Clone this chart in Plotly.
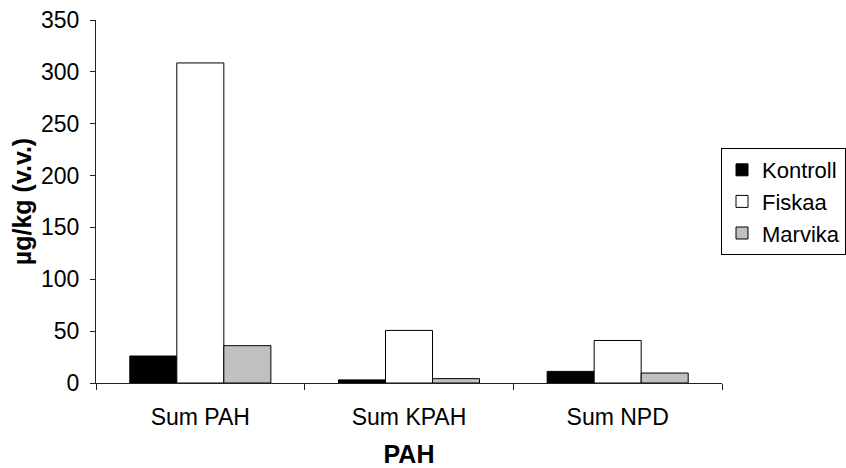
import plotly.graph_objects as go

categories = ["Sum PAH", "Sum KPAH", "Sum NPD"]
kontroll = [26, 3, 11.2]
fiskaa = [308.6, 50.7, 41]
marvika = [36, 4.2, 9.6]

fig = go.Figure()
line = dict(color="black", width=1)
fig.add_bar(name="Kontroll", x=categories, y=kontroll, marker=dict(color="black", line=line))
fig.add_bar(name="Fiskaa", x=categories, y=fiskaa, marker=dict(color="white", line=line))
fig.add_bar(name="Marvika", x=categories, y=marvika, marker=dict(color="#c0c0c0", line=line))

font = "Liberation Sans, Arial, sans-serif"
fig.update_layout(
    width=846, height=468,
    margin=dict(l=96, r=124, t=20, b=85, autoexpand=False),
    paper_bgcolor="white", plot_bgcolor="white",
    barmode="group", bargap=0.324, bargroupgap=0,
    font=dict(family=font, size=23, color="black"),
    showlegend=True,
    legend=dict(xref="container", x=1.0, y=0.5, xanchor="right", yanchor="middle",
                bordercolor="black", borderwidth=1, font=dict(size=22),
                itemwidth=30, tracegroupgap=0),
    xaxis=dict(showline=True, linecolor="#222", linewidth=1, automargin=False,
               ticks="outside", ticklen=6, tickcolor="#222",
               tickson="boundaries", range=[-0.5, 2.5], ticklabelstandoff=13,
               title=dict(text="<b>PAH</b>", font=dict(size=25), standoff=20)),
    yaxis=dict(range=[0, 350], dtick=50, showline=True, linecolor="#222", linewidth=1,
               automargin=False,
               ticks="outside", ticklen=5, tickcolor="#222", showgrid=False, zeroline=False,
               ticklabelstandoff=6,
               title=dict(text="<b>µg/kg (v.v.)</b>", font=dict(size=25), standoff=2)),
)
fig.write_html("out.html")
